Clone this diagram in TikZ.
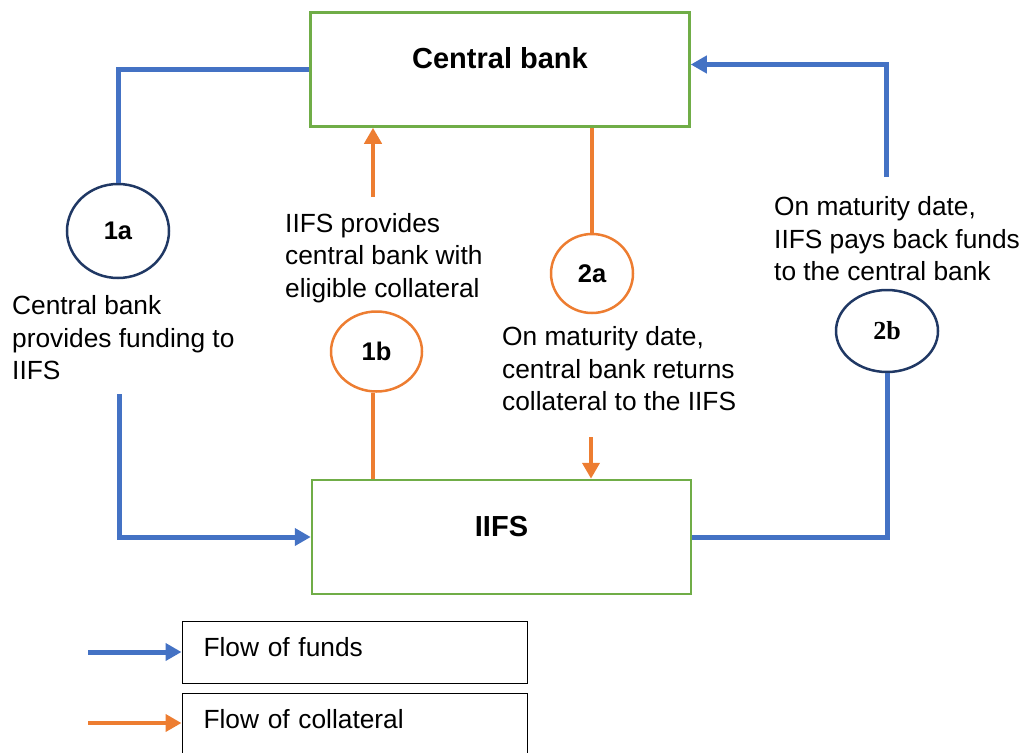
\documentclass[tikz,border=0pt]{standalone}
\usepackage{fontspec}
\setmainfont{Liberation Sans}
\newfontfamily\numserif{Liberation Serif}
\usetikzlibrary{arrows.meta,shapes.geometric}
\definecolor{fundblue}{HTML}{4472C4}
\definecolor{collorange}{HTML}{ED7D31}
\definecolor{boxgreen}{HTML}{70AD47}
\definecolor{ringnavy}{HTML}{203864}
\tikzset{
  party/.style={draw=boxgreen,line width=2.5pt,minimum width=379pt,minimum height=114pt,inner sep=0pt},
  ring/.style={ellipse,draw,line width=2.5pt,inner sep=0pt,font=\fontsize{25.5}{25.5}\selectfont\bfseries},
  note/.style={align=left,inner sep=0pt,anchor=west,font=\fontsize{26.3}{32.5}\selectfont},
  keybox/.style={draw,line width=1pt,minimum width=345pt,minimum height=62pt,text width=302pt,text depth=10pt,align=left,inner sep=0pt,font=\fontsize{26.3}{30}\selectfont},
  funds/.style={fundblue,line width=5pt},
  coll/.style={collorange,line width=4.5pt},
  tip/.style={-{Triangle[length=16pt,width=17pt]}}
}
\begin{document}
\begin{tikzpicture}[x=1pt,y=-1pt]
\useasboundingbox (0,0) rectangle (1032,752);
% the two parties
\node[party,label={[font=\fontsize{29}{29}\selectfont\bfseries,yshift=11pt]center:Central bank}] (cb) at (500,69.5) {};
\node[party,label={[font=\fontsize{29}{29}\selectfont\bfseries,yshift=10pt]center:IIFS}] (iifs) at (501.5,537) {};
% steps
\node[ring,draw=ringnavy,minimum width=102pt,minimum height=94pt] (c1a) at (118,231) {1a};
\node[ring,draw=collorange,minimum width=91pt,minimum height=80pt] (c1b) at (376.5,351.5) {1b};
\node[ring,draw=collorange,minimum width=82pt,minimum height=79pt] (c2a) at (592,273.5) {2a};
\node[ring,draw=ringnavy,minimum width=102pt,minimum height=82pt,font=\fontsize{26}{26}\selectfont\numserif\bfseries] (c2b) at (887,331) {2b};
\node[note] (t1a) at (12,338) {Central bank\\provides funding to\\IIFS};
\node[note] (t1b) at (285,258) {IIFS provides\\central bank with\\eligible collateral};
\node[note] (t2a) at (502,369) {On maturity date,\\central bank returns\\collateral to the IIFS};
\node[note] (t2b) at (774,239) {On maturity date,\\IIFS pays back funds\\to the central bank};
% free ends
\coordinate (f1a) at (119,394);
\coordinate (f1b) at (373,197);
\coordinate (f2a) at (591,437);
\coordinate (f2b) at (886,177);
% flow of funds
\draw[funds] (cb.west) -| (c1a.north);
\draw[funds,tip] (f1a) |- (iifs.west);
\draw[funds] (iifs.east) -| (c2b.south);
\draw[funds,tip] (f2b) |- ([yshift=5pt]cb.east);
% flow of collateral
\draw[coll,tip] (f1b) -- (f1b |- cb.south);
\draw[coll] (c1b.south -| f1b) -- (f1b |- iifs.north);
\draw[coll] (cb.south -| c2a) -- (c2a.north);
\draw[coll,tip] (f2a) -- (f2a |- iifs.north);
% legend
\node[keybox] (kfunds) at (354.5,652) {Flow of funds};
\node[keybox] (kcoll) at (354.5,724) {Flow of collateral};
\coordinate (lfunds) at (88,652);
\coordinate (lcoll) at (88,723);
\draw[funds,tip] (lfunds) -- (lfunds -| kfunds.west);
\draw[coll,tip] (lcoll) -- (lcoll -| kcoll.west);
\end{tikzpicture}
\end{document}
